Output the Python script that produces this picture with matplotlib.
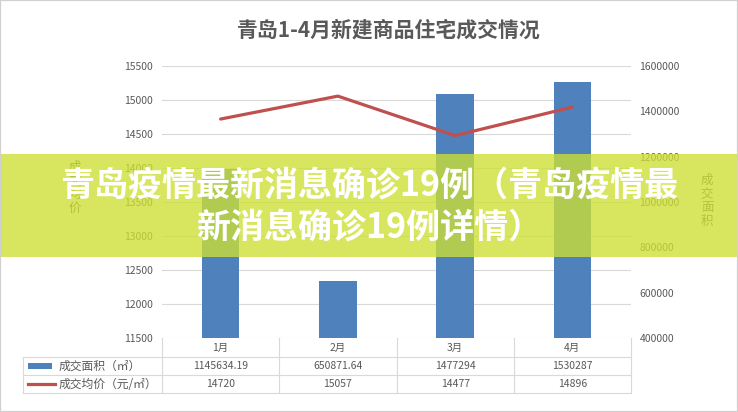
import matplotlib
matplotlib.use("Agg")
import matplotlib.pyplot as plt
from matplotlib.patches import Rectangle
from matplotlib.lines import Line2D
import matplotlib.transforms as mtransforms

plt.rcParams['font.family'] = ['Noto Sans CJK SC', 'DejaVu Sans']

# ---------------- data ----------------
title = "青岛1-4月新建商品住宅成交情况"
months = ["1月", "2月", "3月", "4月"]
area = [1145634.19, 650871.64, 1477294, 1530287]
area_labels = ["1145634.19", "650871.64", "1477294", "1530287"]
price = [14720, 15057, 14477, 14896]
price_labels = ["14720", "15057", "14477", "14896"]
price_ticks = [11500, 12000, 12500, 13000, 13500, 14000, 14500, 15000, 15500]
area_ticks = [400000, 600000, 800000, 1000000, 1200000, 1400000, 1600000]
series_names = ["成交面积（㎡）", "成交均价（元/㎡）"]
left_label = "成交均价"
right_label = "成交面积"
banner_lines = ["青岛疫情最新消息确诊19例（青岛疫情最", "新消息确诊19例详情）"]

# ---------------- style ----------------
BAR = "#4F81BD"
LINE = "#C0504D"
GRID = "#D9D9D9"
TXT = "#595959"

W, H = 738, 412
fig = plt.figure(figsize=(W / 100, H / 100), dpi=100)
fig.patch.set_facecolor("white")


def fx(px):
    return px / W


def fy(py):
    return 1 - py / H


L, R, T, B = 162, 631, 66, 338
ax = fig.add_axes([fx(L), fy(B), fx(R) - fx(L), fy(T) - fy(B)])
x = list(range(len(months)))

# left axis (price) with grid
ax.set_xlim(-0.5, len(months) - 0.5)
ax.set_ylim(price_ticks[0], price_ticks[-1])
ax.set_yticks(price_ticks)
ax.set_yticklabels([str(v) for v in price_ticks])
ax.grid(axis="y", color=GRID, linewidth=0.8)
ax.set_axisbelow(True)
ax.set_xticks([])
ax.tick_params(axis="y", length=0, pad=6.5, labelsize=7.5, labelcolor=TXT)
for s in ax.spines.values():
    s.set_visible(False)

# right axis (area) with bars
ax2 = ax.twinx()
ax2.bar(x, area, width=0.32, color=BAR, zorder=2)
ax2.set_ylim(area_ticks[0], area_ticks[-1])
ax2.set_yticks(area_ticks)
ax2.set_yticklabels([str(v) for v in area_ticks])
ax2.tick_params(axis="y", length=0, pad=6, labelsize=7.5, labelcolor=TXT)
for s in ax2.spines.values():
    s.set_visible(False)

# line on top
ax3 = ax.twinx()
ax3.set_ylim(price_ticks[0], price_ticks[-1])
ax3.plot(x, price, color=LINE, linewidth=2.3, solid_capstyle="round")
ax3.axis("off")

# title
fig.text(fx(389), fy(30), title, ha="center", va="center", fontsize=15,
         fontweight="bold", color=TXT)

# axis labels (vertical stacked)
fig.text(fx(75), fy(188), "\n".join(left_label), ha="center", va="center",
         fontsize=9, color=TXT, linespacing=1.05)
fig.text(fx(707), fy(201), "\n".join(right_label), ha="center", va="center",
         fontsize=9, color=TXT, linespacing=1.05)

# ---------------- data table ----------------
tb = mtransforms.blended_transform_factory(ax.transData, fig.transFigure)
for b in [i - 0.5 for i in range(len(months) + 1)]:
    fig.add_artist(Line2D([b, b], [fy(338), fy(393)], transform=tb,
                          color=GRID, linewidth=0.8))
for ry in [357, 375, 393]:
    fig.add_artist(Line2D([fx(23), fx(R)], [fy(ry), fy(ry)],
                          transform=fig.transFigure, color=GRID, linewidth=0.8))
fig.add_artist(Line2D([fx(23), fx(23)], [fy(357), fy(393)],
                      transform=fig.transFigure, color=GRID, linewidth=0.8))

for i, m in enumerate(months):
    fig.text(i, fy(347.5), m, transform=tb, ha="center", va="center",
             fontsize=7.5, color=TXT)
    fig.text(i, fy(366), area_labels[i], transform=tb, ha="center",
             va="center", fontsize=7.5, color=TXT)
    fig.text(i, fy(384), price_labels[i], transform=tb, ha="center",
             va="center", fontsize=7.5, color=TXT)

# legend keys in table
fig.add_artist(Rectangle((fx(28), fy(368.5)), fx(52) - fx(28), fy(363) - fy(368.5),
                         transform=fig.transFigure, facecolor=BAR, edgecolor="none"))
fig.add_artist(Line2D([fx(28), fx(55)], [fy(384), fy(384)],
                      transform=fig.transFigure, color=LINE, linewidth=2.3))
fig.text(fx(59), fy(366), series_names[0], ha="left", va="center",
         fontsize=8.5, color=TXT)
fig.text(fx(59), fy(384), series_names[1], ha="left", va="center",
         fontsize=8.5, color=TXT)

# ---------------- overlay banner ----------------
fig.add_artist(Rectangle((0, fy(257)), 1, fy(154) - fy(257),
                         transform=fig.transFigure,
                         facecolor=(205 / 255, 224 / 255, 50 / 255),
                         alpha=0.78, edgecolor="none", zorder=10))
fig.text(fx(369), fy(185), banner_lines[0], ha="center", va="center",
         fontsize=24.5, fontweight="heavy", color="white", zorder=11)
fig.text(fx(369), fy(227), banner_lines[1], ha="center", va="center",
         fontsize=24.5, fontweight="heavy", color="white", zorder=11)

# outer border
fig.add_artist(Rectangle((0, 0), 1, 1, transform=fig.transFigure, fill=False,
                         edgecolor="#D0D0D0", linewidth=1.6, zorder=12))

fig.savefig("out.png", dpi=100)
